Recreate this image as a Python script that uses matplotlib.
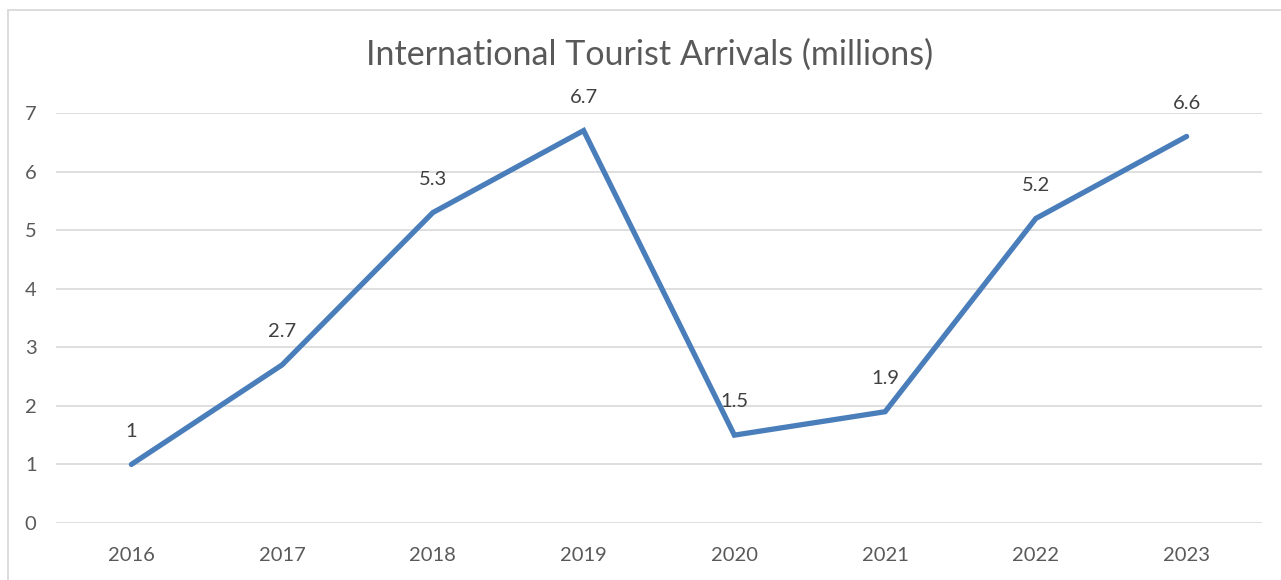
import matplotlib
matplotlib.use("Agg")
import matplotlib.pyplot as plt
from matplotlib.patches import Rectangle

years = ["2016", "2017", "2018", "2019", "2020", "2021", "2022", "2023"]
arrivals = [1, 2.7, 5.3, 6.7, 1.5, 1.9, 5.2, 6.6]
labels = ["1", "2.7", "5.3", "6.7", "1.5", "1.9", "5.2", "6.6"]

plt.rcParams['font.family'] = ['Lato', 'DejaVu Sans']
txt = '#595959'

fig = plt.figure(figsize=(12.81, 5.80), dpi=100)
ax = fig.add_axes([56/1281, 1 - 523/580, (1262 - 56)/1281, (523 - 113)/580])

# chart border (runs off the right/bottom edge)
fig.patches.append(Rectangle((8/1281, -0.05), 1.2, 1 - 10/580 + 0.05,
                             transform=fig.transFigure, fill=False,
                             edgecolor='#D9D9D9', linewidth=1.3))

x = list(range(len(years)))
ax.plot(x, arrivals, color='#4A7EBB', linewidth=3.8, solid_capstyle='round',
        solid_joinstyle='miter', zorder=3)
for xi, v, lab in zip(x, arrivals, labels):
    ax.annotate(lab, (xi, v), xytext=(0, 24), textcoords='offset points',
                ha='center', va='center', fontsize=14.5, color='#404040')

ax.set_xlim(-0.5, len(years) - 0.5)
ax.set_ylim(0, 7)
ax.set_yticks(range(0, 8))
ax.set_xticks(x)
ax.set_xticklabels(years)
ax.grid(axis='y', color='#D9D9D9', linewidth=1.2)
ax.set_axisbelow(True)
for s in ax.spines.values():
    s.set_visible(False)
ax.tick_params(length=0, labelsize=14.5, colors=txt)
ax.tick_params(axis='y', pad=14)
ax.tick_params(axis='x', pad=17)

fig.text(650/1281, 1 - 55/580, "International Tourist Arrivals (millions)",
         ha='center', va='center', fontsize=24.5, color=txt)

fig.savefig("out.png", dpi=100)
